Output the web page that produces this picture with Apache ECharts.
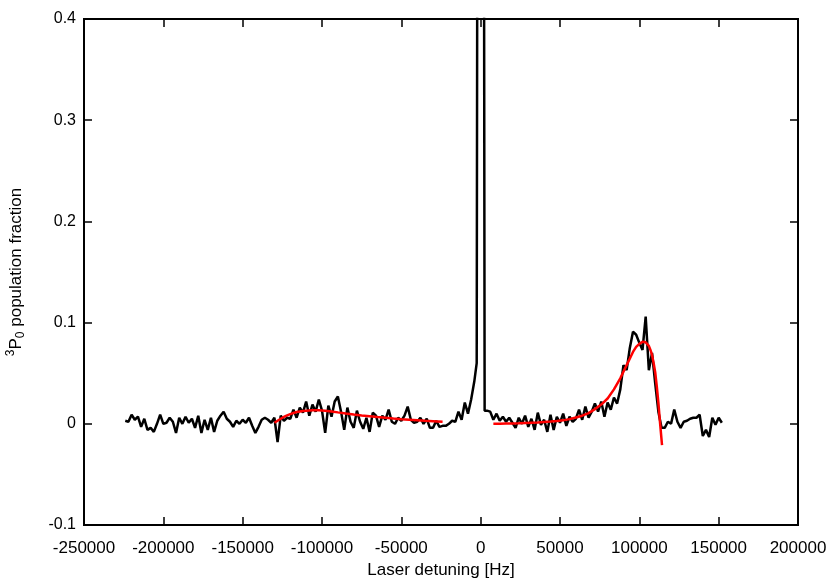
<!DOCTYPE html>
<html>
<head>
<meta charset="utf-8">
<script src="https://cdn.jsdelivr.net/npm/echarts@6/dist/echarts.min.js"></script>
<style>
  html, body { margin: 0; padding: 0; background: #fff; }
  #chart { width: 830px; height: 581px; }
</style>
</head>
<body>
<div id="chart"></div>
<script>
// measured signal, 2 kHz steps
var lowStart = -224000, step = 2000;
var fractionLow = [
  0.003, 0.002, 0.009, 0.004, 0.007, -0.003, 0.005, -0.006, -0.004, -0.008,
  0.000, 0.009, 0.000, 0.001, 0.006, 0.002, -0.009, 0.006, 0.000, 0.007,
  0.001, 0.005, -0.004, 0.008, -0.009, 0.004, -0.006, 0.006, -0.008, 0.003,
  0.008, 0.012, 0.005, 0.002, -0.003, 0.003, 0.000, 0.004, 0.001, 0.006,
  -0.002, -0.009, -0.003, 0.004, 0.006, 0.004, 0.001,
  // -130000 ..
  0.006, -0.018, 0.008, 0.003, 0.006, 0.005, 0.014, 0.006, 0.016, 0.011,
  0.022, 0.008, 0.019, 0.012, 0.024, 0.013, -0.009, 0.018, 0.007, 0.022,
  0.027, 0.012, -0.006, 0.016, 0.002, -0.004, 0.013, 0.002, -0.005, 0.006,
  -0.008, 0.011, 0.008, -0.003, 0.008, 0.004, 0.014, 0.002, 0.000, 0.006,
  0.003, 0.008, 0.017, 0.004, 0.001, 0.002, 0.006, 0.000, 0.005, -0.004,
  -0.004, 0.003, -0.003,
  // -24000 .. -4000
  -0.002, -0.002, 0.000, 0.003, 0.002, 0.012, 0.004, 0.021, 0.010, 0.024, 0.042
];
// central carrier peak (goes off scale)
var peakDetuning = [-2500, -1500, 0, 1500, 2500];
var peakFraction = [0.060, 1.2, 1.2, 1.2, 0.013];

var highStart = 4000;
var fractionHigh = [
  0.013, 0.012, 0.004, 0.010, 0.003, 0.007, 0.002, 0.006, 0.001, -0.004,
  0.006, 0.000, 0.008, -0.003, 0.005, -0.006, 0.011, -0.001, 0.004, -0.008,
  0.009, -0.006, 0.007, 0.001, 0.010, -0.002, 0.007, 0.002, 0.005,
  // 62000 ..
  0.014, 0.004, 0.017, 0.006, 0.012, 0.020, 0.012, 0.022, 0.007, 0.021,
  0.014, 0.026, 0.020, 0.034, 0.058, 0.053, 0.075, 0.091, 0.088, 0.080,
  0.073, 0.106, 0.053, 0.070, 0.040, 0.012, -0.004,
  // 116000 ..
  -0.004, 0.002, 0.000, 0.014, 0.002, -0.004, 0.002, 0.003, 0.005, 0.006,
  0.006, 0.009, -0.012, -0.006, -0.013, 0.006, -0.001, 0.006, 0.001
];

// fitted curves
var leftFitX = [-130000, -128000, -126000, -124000, -122000, -120000, -118000, -116000, -114000, -112000,
  -110000, -106000, -102000, -98000, -94000, -90000, -85000, -80000, -75000, -70000,
  -65000, -60000, -55000, -50000, -45000, -40000, -35000, -30000, -24000];
var leftFitY = [0.001, 0.003, 0.005, 0.0068, 0.0083, 0.0096, 0.0107, 0.0116, 0.0122, 0.0127,
  0.013, 0.0134, 0.0134, 0.013, 0.0122, 0.0113, 0.0102, 0.0092, 0.0083, 0.0075,
  0.0067, 0.006, 0.0052, 0.0045, 0.004, 0.0035, 0.003, 0.0026, 0.002];
var rightFitX = [8000, 12000, 16000, 20000, 24000, 28000, 32000, 36000, 40000, 44000,
  48000, 52000, 56000, 60000, 64000, 68000, 72000, 76000, 80000, 84000,
  88000, 92000, 96000, 98000, 100000, 102000, 103000, 104000, 105000, 106000,
  107000, 108000, 109000, 110000, 111000, 112000, 113000, 114300];
var rightFitY = [0.0, 0.0001, 0.0002, 0.0003, 0.0005, 0.0008, 0.0011, 0.0014, 0.0018, 0.0022,
  0.0027, 0.0034, 0.0046, 0.0062, 0.008, 0.0105, 0.0145, 0.019, 0.025, 0.034,
  0.045, 0.058, 0.071, 0.076, 0.079, 0.081, 0.081, 0.0805, 0.079, 0.077,
  0.073, 0.068, 0.060, 0.051, 0.037, 0.021, 0.002, -0.021];

var xTicks = { min: -250000, max: 200000, interval: 50000 };
var yTicks = { min: -0.1, max: 0.4, interval: 0.1 };

var signal = [];
fractionLow.forEach(function (v, i) { signal.push([lowStart + i * step, v]); });
peakDetuning.forEach(function (x, i) { signal.push([x, peakFraction[i]]); });
fractionHigh.forEach(function (v, i) { signal.push([highStart + i * step, v]); });

function pairs(xs, ys) { return xs.map(function (x, i) { return [x, ys[i]]; }); }

var font = 'Liberation Sans, Arial, sans-serif';
var tick = { show: true, inside: true, length: 8, lineStyle: { color: '#000', width: 1.5 } };
var noLine = { show: false, onZero: false };

var myChart = echarts.init(document.getElementById('chart'), null, { renderer: 'canvas' });
var option = {
  animation: false,
  backgroundColor: '#fff',
  grid: { left: 84, right: 32, top: 19, bottom: 56, containLabel: false, outerBoundsMode: 'none',
    show: true, borderColor: '#000', borderWidth: 2, backgroundColor: 'transparent' },
  xAxis: [
    {
      type: 'value', min: xTicks.min, max: xTicks.max, interval: xTicks.interval, position: 'bottom',
      axisLine: noLine, axisTick: tick, splitLine: { show: false },
      axisLabel: { color: '#000', fontSize: 17, fontFamily: font, margin: 15,
        formatter: function (v) { return String(v); } },
      name: 'Laser detuning [Hz]', nameLocation: 'middle', nameGap: 36,
      nameTextStyle: { color: '#000', fontSize: 17, fontFamily: font }
    },
    {
      type: 'value', min: xTicks.min, max: xTicks.max, interval: xTicks.interval, position: 'top',
      axisLine: noLine, axisTick: tick, splitLine: { show: false }, axisLabel: { show: false }
    }
  ],
  yAxis: [
    {
      type: 'value', min: yTicks.min, max: yTicks.max, interval: yTicks.interval, position: 'left',
      axisLine: noLine, axisTick: tick, splitLine: { show: false },
      axisLabel: { color: '#000', fontSize: 16, fontFamily: font, margin: 8,
        formatter: function (v) { return String(Math.round(v * 10) / 10); } },
      name: '{sup|3}P{sub|0} population fraction', nameLocation: 'middle', nameGap: 57, nameRotate: 90,
      nameTextStyle: { color: '#000', fontSize: 17, fontFamily: font,
        rich: {
          sup: { fontSize: 12, fontFamily: font, color: '#000', padding: [0, 0, 10, 0] },
          sub: { fontSize: 12, fontFamily: font, color: '#000', padding: [10, 0, 0, 0] }
        } }
    },
    {
      type: 'value', min: yTicks.min, max: yTicks.max, interval: yTicks.interval, position: 'right',
      axisLine: noLine, axisTick: tick, splitLine: { show: false }, axisLabel: { show: false }
    }
  ],
  series: [
    {
      type: 'line', data: signal, showSymbol: false, clip: true,
      lineStyle: { color: '#000', width: 2.5 }, z: 2
    },
    {
      type: 'line', data: pairs(leftFitX, leftFitY), showSymbol: false,
      lineStyle: { color: '#f00', width: 2.5 }, z: 3
    },
    {
      type: 'line', data: pairs(rightFitX, rightFitY), showSymbol: false,
      lineStyle: { color: '#f00', width: 2.5 }, z: 3
    }
  ]
};
myChart.setOption(option);
</script>
</body>
</html>
